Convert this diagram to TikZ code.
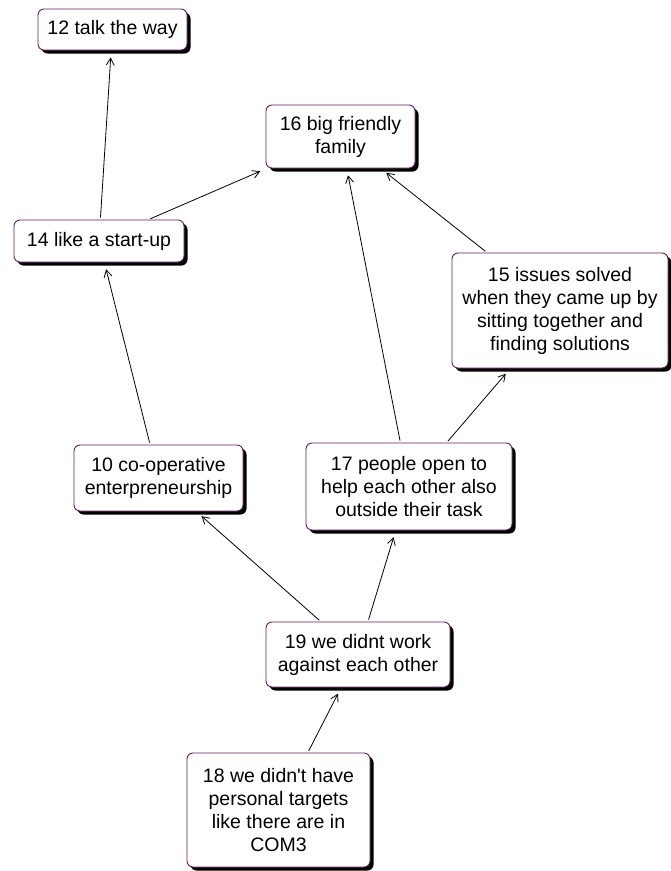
\documentclass[tikz,border=0pt]{standalone}
\usepackage{fontspec}
\setmainfont{Liberation Sans}
\usetikzlibrary{arrows.meta,shadows}
\definecolor{boxline}{HTML}{602060}
\begin{document}
\begin{tikzpicture}[x=1pt,y=-1pt,
  concept/.style={draw=boxline, line width=0.9pt, fill=white, rounded corners=6pt,
    align=center, inner sep=0pt, font=\fontsize{19.5}{23}\selectfont,
    drop shadow={shadow xshift=3.5pt, shadow yshift=-3.5pt, opacity=1, fill=black}},
  link/.style={draw=black, line width=0.8pt, -{Straight Barb[length=7pt,width=8pt]},
    shorten <=2pt, shorten >=7pt}]
\useasboundingbox (0,0) rectangle (671,871);

% concept boxes
\node[concept, minimum width=149pt, minimum height=41pt] (n12) at (112.5,29.5) {12 talk the way};
\node[concept, minimum width=149pt, minimum height=63pt] (n16) at (340.5,136.5) {16 big friendly\\family};
\node[concept, minimum width=170pt, minimum height=42pt] (n14) at (99,241) {14 like a start-up};
\node[concept, minimum width=216pt, minimum height=115pt] (n15) at (560,310.5) {15 issues solved\\when they came up by\\sitting together and\\finding solutions};
\node[concept, minimum width=169pt, minimum height=66pt] (n10) at (158.5,478) {10 co-operative\\enterpreneurship};
\node[concept, minimum width=206pt, minimum height=87pt] (n17) at (409,486.5) {17 people open to\\help each other also\\outside their task};
\node[concept, minimum width=184pt, minimum height=65pt] (n19) at (358,654.5) {19 we didnt work\\against each other};
\node[concept, minimum width=183pt, minimum height=114pt] (n18) at (278.5,810) {18 we didn\textquotesingle t have\\personal targets\\like there are in\\COM3};

% links
\draw[link] (n14) -- (n12);
\draw[link] (n14) -- (n16);
\draw[link] (n10) -- (n14);
\draw[link] (n17) -- (n16);
\draw[link] (n15) -- (n16);
\draw[link] (n17) -- (n15);
\draw[link] (n19) -- (n10);
\draw[link] (n19) -- (n17);
\draw[link] (n18) -- (n19);
\end{tikzpicture}
\end{document}
